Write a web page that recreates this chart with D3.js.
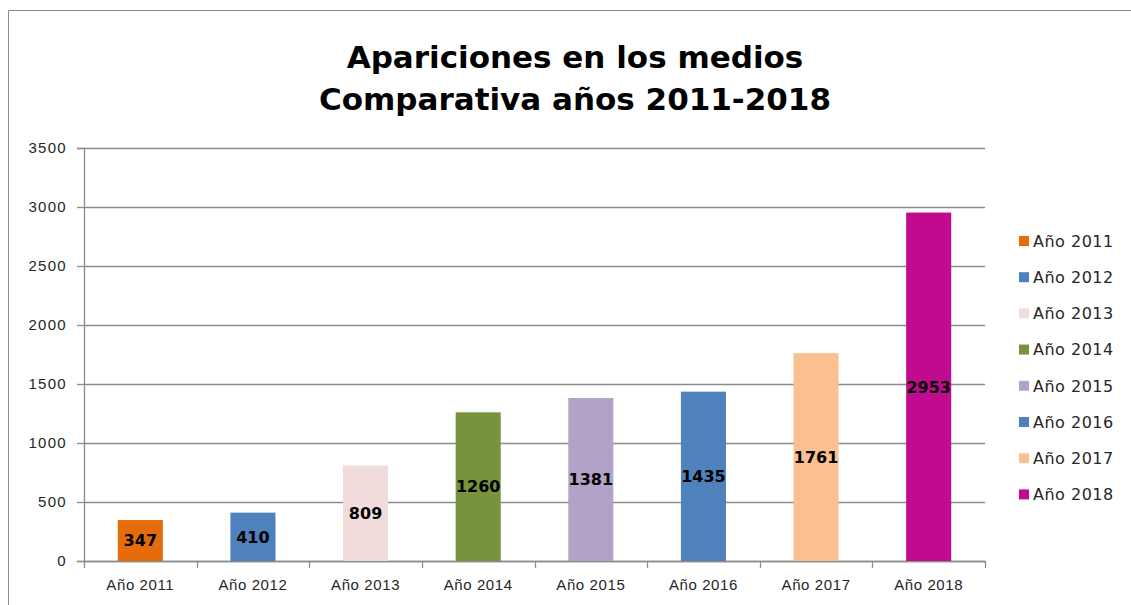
<!DOCTYPE html>
<html>
<head>
<meta charset="utf-8">
<script src="https://cdn.jsdelivr.net/npm/d3@7"></script>
<style>
  body { margin: 0; background: #fff; }
  svg { display: block; font-family: "DejaVu Sans", sans-serif; }
</style>
</head>
<body>
<div id="chart"></div>
<script>
const years = ["Año 2011", "Año 2012", "Año 2013", "Año 2014", "Año 2015", "Año 2016", "Año 2017", "Año 2018"]
const apariciones = [347, 410, 809, 1260, 1381, 1435, 1761, 2953]
const colores = ["#e46c0a", "#4f81bd", "#f2dcdb", "#77933c", "#b3a2c7", "#4f81bd", "#fac090", "#c00a8f"]
const y_ticks = [0, 500, 1000, 1500, 2000, 2500, 3000, 3500]
const title_lines = ["Apariciones en los medios", "Comparativa años 2011-2018"]

const W = 1131, H = 605
const margin = { top: 148, right: 146, bottom: 44, left: 84 }
const width = W - margin.left - margin.right
const height = H - margin.top - margin.bottom

const svg = d3.select("#chart").append("svg")
    .attr("width", W)
    .attr("height", H)

// outer frame (only top and left edges visible in the crop)
svg.append("path")
    .attr("d", `M8.5,${H} V10.5 H${W}`)
    .attr("fill", "none")
    .attr("stroke", "#8c8c8c")
    .attr("stroke-width", 1)

svg.selectAll(".title")
    .data(title_lines)
    .enter().append("text")
    .attr("class", "title")
    .attr("x", 575)
    .attr("y", (d, i) => 68 + i * 42)
    .attr("text-anchor", "middle")
    .attr("font-size", "31px")
    .attr("font-weight", "bold")
    .attr("fill", "#000")
    .text(d => d)

const g = svg.append("g")
    .attr("transform", `translate(${margin.left},${margin.top})`)

const x = d3.scaleBand()
    .domain(years)
    .range([0, width])
    .padding(0)

const y = d3.scaleLinear()
    .domain([0, 3500])
    .range([height, 0])

// gridlines
g.selectAll(".grid")
    .data(y_ticks)
    .enter().append("line")
    .attr("x1", 0)
    .attr("x2", width)
    .attr("y1", d => Math.round(y(d)) + 0.5)
    .attr("y2", d => Math.round(y(d)) + 0.5)
    .attr("stroke", "#8c8c8c")
    .attr("stroke-width", 1.3)

const yAxis = g.append("g")
    .call(d3.axisLeft(y).tickValues(y_ticks).tickSize(7).tickPadding(10).tickFormat(d3.format("d")))
yAxis.select(".domain").attr("stroke", "#8c8c8c").attr("stroke-width", 1.3)
yAxis.selectAll(".tick line").attr("stroke", "#8c8c8c").attr("stroke-width", 1.3)
yAxis.selectAll(".tick text")
    .attr("font-size", "15px")
    .attr("letter-spacing", "1.3px")
    .attr("fill", "#262626")

const xAxis = g.append("g")
    .attr("transform", `translate(0,${height})`)
    .call(d3.axisBottom(x).tickSize(0).tickPadding(18))
xAxis.select(".domain").attr("stroke", "#8c8c8c").attr("stroke-width", 1.3)
xAxis.selectAll(".tick text")
    .attr("font-size", "15px")
    .attr("letter-spacing", "0.6px")
    .attr("fill", "#262626")

// category boundary ticks
const bounds = years.map(d => x(d)).concat([width])
xAxis.selectAll(".bound")
    .data(bounds)
    .enter().append("line")
    .attr("x1", d => Math.round(d) + 0.5)
    .attr("x2", d => Math.round(d) + 0.5)
    .attr("y1", 0)
    .attr("y2", 7)
    .attr("stroke", "#8c8c8c")
    .attr("stroke-width", 1.3)

const barW = x.bandwidth() * 0.4

g.selectAll(".bar")
    .data(apariciones)
    .enter().append("rect")
    .attr("class", "bar")
    .attr("x", (d, i) => x(years[i]) + (x.bandwidth() - barW) / 2)
    .attr("y", d => y(d))
    .attr("width", barW)
    .attr("height", d => height - y(d))
    .attr("fill", (d, i) => colores[i])

g.selectAll(".label")
    .data(apariciones)
    .enter().append("text")
    .attr("class", "label")
    .attr("x", (d, i) => x(years[i]) + x.bandwidth() / 2)
    .attr("y", d => (y(d) + height) / 2)
    .attr("dy", "0.36em")
    .attr("text-anchor", "middle")
    .attr("font-size", "16px")
    .attr("font-weight", "bold")
    .attr("fill", "#000")
    .text(d => d)

// legend
const legend = svg.append("g")
    .attr("transform", "translate(1019,241)")

const item = legend.selectAll(".item")
    .data(years)
    .enter().append("g")
    .attr("transform", (d, i) => `translate(0,${i * 36.2})`)

item.append("rect")
    .attr("x", 0)
    .attr("y", -5)
    .attr("width", 10)
    .attr("height", 10)
    .attr("fill", (d, i) => colores[i])

item.append("text")
    .attr("x", 14)
    .attr("dy", "0.36em")
    .attr("font-size", "16px")
    .attr("letter-spacing", "0.5px")
    .attr("fill", "#262626")
    .text(d => d)
</script>
</body>
</html>
